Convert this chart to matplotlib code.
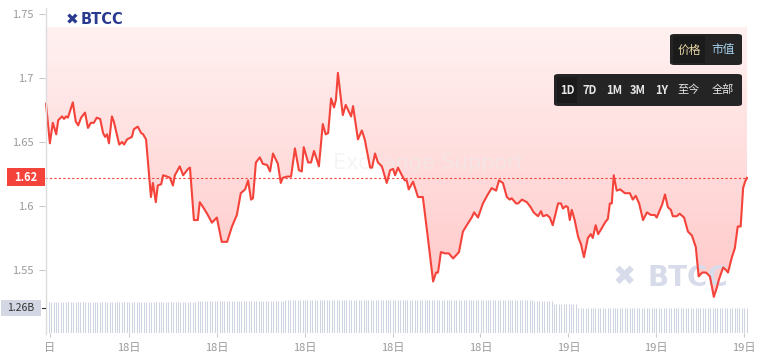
import numpy as np
import matplotlib
matplotlib.use('Agg')
import matplotlib.pyplot as plt
from matplotlib.patches import FancyBboxPatch, Rectangle
from matplotlib.colors import LinearSegmentedColormap

plt.rcParams['font.family'] = ['Noto Sans CJK SC', 'DejaVu Sans']

# minutes since start of the 1D window, price
minutes = [2, 10, 16, 23, 27, 35, 39, 43, 47, 57, 63, 68, 74, 82, 88, 94, 100, 106, 113,
           119, 123, 127, 131, 137, 141, 152, 158, 162, 168, 178, 182, 190, 197, 201, 207,
           217, 221, 227, 231, 238, 242, 250, 256, 262, 266, 276, 283, 293, 297, 305, 313,
           317, 324, 332, 342, 352, 362, 373, 383, 393, 401, 410, 416, 422, 426, 432, 440,
           446, 455, 461, 467, 477, 483, 487, 496, 504, 512, 520, 526, 530, 539, 545, 551,
           557, 561, 569, 575, 580, 586, 592, 596, 600, 610, 616, 627, 631, 639, 641, 649,
           655, 666, 670, 676, 682, 690, 700, 707, 713, 717, 723, 731, 737, 741, 745, 754,
           764, 774, 784, 795, 801, 805, 811, 819, 827, 836, 848, 856, 864, 874, 879, 887,
           897, 907, 915, 924, 930, 938, 946, 952, 956, 965, 969, 977, 987, 995, 1001, 1010,
           1016, 1020, 1028, 1034, 1040, 1051, 1057, 1061, 1067, 1071, 1075, 1079, 1085,
           1092, 1098, 1104, 1112, 1118, 1122, 1128, 1133, 1141, 1147, 1153, 1157, 1161,
           1165, 1171, 1178, 1188, 1198, 1204, 1210, 1217, 1225, 1233, 1241, 1249, 1253,
           1264, 1270, 1276, 1282, 1286, 1294, 1300, 1309, 1317, 1325, 1333, 1339, 1346,
           1354, 1362, 1370, 1376, 1380, 1389, 1395, 1399, 1407, 1413, 1419, 1425, 1430,
           1434, 1438]
prices = [1.680, 1.649, 1.665, 1.656, 1.667, 1.670, 1.668, 1.670, 1.669, 1.681, 1.666, 1.663,
          1.669, 1.673, 1.661, 1.665, 1.665, 1.669, 1.668, 1.657, 1.654, 1.656, 1.649, 1.670,
          1.666, 1.648, 1.650, 1.648, 1.652, 1.654, 1.660, 1.662, 1.657, 1.656, 1.652, 1.607,
          1.618, 1.603, 1.616, 1.617, 1.624, 1.623, 1.622, 1.616, 1.624, 1.631, 1.624, 1.629,
          1.630, 1.589, 1.589, 1.603, 1.599, 1.594, 1.587, 1.591, 1.572, 1.572, 1.584, 1.593,
          1.610, 1.613, 1.620, 1.605, 1.606, 1.634, 1.638, 1.633, 1.632, 1.627, 1.641, 1.633,
          1.618, 1.622, 1.623, 1.623, 1.645, 1.628, 1.627, 1.646, 1.634, 1.634, 1.643, 1.636,
          1.631, 1.664, 1.656, 1.657, 1.684, 1.677, 1.683, 1.704, 1.671, 1.679, 1.670, 1.678,
          1.657, 1.652, 1.659, 1.652, 1.630, 1.630, 1.641, 1.634, 1.631, 1.618, 1.628, 1.629,
          1.624, 1.630, 1.624, 1.620, 1.620, 1.613, 1.619, 1.607, 1.607, 1.576, 1.541, 1.548,
          1.548, 1.564, 1.563, 1.563, 1.559, 1.564, 1.580, 1.585, 1.591, 1.595, 1.591, 1.602,
          1.609, 1.614, 1.612, 1.620, 1.618, 1.607, 1.605, 1.606, 1.602, 1.602, 1.605, 1.603,
          1.599, 1.595, 1.592, 1.596, 1.592, 1.593, 1.591, 1.585, 1.602, 1.602, 1.598, 1.600,
          1.599, 1.589, 1.597, 1.589, 1.576, 1.570, 1.560, 1.575, 1.578, 1.575, 1.585, 1.578,
          1.583, 1.587, 1.590, 1.602, 1.602, 1.624, 1.612, 1.613, 1.610, 1.610, 1.605, 1.608,
          1.602, 1.589, 1.595, 1.593, 1.593, 1.591, 1.601, 1.609, 1.599, 1.597, 1.592, 1.592,
          1.594, 1.591, 1.580, 1.577, 1.568, 1.545, 1.548, 1.548, 1.545, 1.529, 1.536, 1.542,
          1.552, 1.550, 1.548, 1.560, 1.567, 1.584, 1.584, 1.614, 1.619, 1.622]
last_price = 1.622

# volume (billions), run-length by 5-minute bars
vol_levels = [1.57, 1.62, 1.68, 1.60, 1.48, 1.28]
vol_counts = [62, 36, 102, 8, 10, 70]
last_volume = '1.26B'

price_ticks = [1.55, 1.6, 1.65, 1.7, 1.75]
price_tick_labels = ['1.55', '1.6', '1.65', '1.7', '1.75']
time_ticks = [10, 172, 352, 532, 712, 892, 1072, 1252, 1432]
time_labels = ['日', '18日', '18日', '18日', '18日', '18日', '19日', '19日', '19日']
range_buttons = ['1D', '7D', '1M', '3M', '1Y', '至今', '全部']

W, H = 758, 364
fig = plt.figure(figsize=(W / 100, H / 100), dpi=100)
fig.patch.set_facecolor('white')


def fx(px):
    return px / W


def fy(py):
    return 1 - py / H


red = '#f4433a'
grey = '#9a9a9a'

# volume axes
axv = fig.add_axes([fx(45), fy(333), fx(748) - fx(45), (333 - 296) / H])
vols = np.repeat(vol_levels, vol_counts)
bar_t = np.arange(len(vols)) * 5 + 2.5
axv.vlines(bar_t, 0, vols, color='#cfd4e3', lw=0.75, snap=True)
axv.set_xlim(0, 1440)
axv.set_ylim(0, 37 * 1.26 / 25)
axv.set_yticks([])
for s in axv.spines.values():
    s.set_visible(False)
axv.set_xticks(time_ticks)
axv.set_xticklabels(time_labels)
axv.tick_params(axis='x', length=3, color='#cccccc', labelcolor=grey, labelsize=8, pad=4)
axv.patch.set_alpha(0)

# price axes
ax = fig.add_axes([fx(45), fy(300), fx(748) - fx(45), 295 / H])
ax.patch.set_alpha(0)
y_top = 1.75 + 9 / 1280
y_bot = 1.75 - 286 / 1280
fill_top = 1.75 - 13 / 1280
ax.set_xlim(0, 1440)
ax.set_ylim(y_bot, y_top)

poly = ax.fill_between(minutes, prices, fill_top, color='none', linewidth=0)
cmap = LinearSegmentedColormap.from_list('pink', ['#ffc8c8', '#fff1f1'])
grad = np.linspace(0, 1, 256).reshape(-1, 1)
im = ax.imshow(grad, extent=[0, 1440, y_bot, fill_top], origin='lower',
               aspect='auto', cmap=cmap, zorder=1)
im.set_clip_path(poly.get_paths()[0], transform=ax.transData)

ax.plot(minutes, prices, color=red, lw=1.5, zorder=4, solid_joinstyle='round')
ax.axhline(last_price, color=red, lw=0.8, ls=(0, (2, 2)), zorder=3)

ax.set_yticks(price_ticks)
ax.set_yticklabels(price_tick_labels)
ax.tick_params(axis='y', length=4, color='#cccccc', labelcolor=grey, labelsize=8, pad=4)
ax.set_xticks([])
for s in ax.spines.values():
    s.set_visible(False)

# left axis line
fig.add_artist(plt.Line2D([fx(45.5), fx(45.5)], [fy(8), fy(334)], color='#dddddd', lw=1))

# watermarks (under the line, over the fill)
ft = ax.transAxes.inverted()


def fig_to_ax(px, py):
    return ft.transform(fig.transFigure.transform((fx(px), fy(py))))


wx, wy = fig_to_ax(428, 163)
ax.text(wx, wy, 'Exchange Support', transform=ax.transAxes, fontsize=15, color='#ececec',
        alpha=0.5, ha='center', va='center', family='DejaVu Sans', zorder=2)
wx, wy = fig_to_ax(624, 277)
ax.text(wx, wy, '✖', transform=ax.transAxes, fontsize=20, color='#d8dcea', ha='center',
        va='center', family='DejaVu Sans', zorder=2)
wx, wy = fig_to_ax(647, 278)
ax.text(wx, wy, 'BTCC', transform=ax.transAxes, fontsize=20, color='#d8dcea', ha='left',
        va='center', family='DejaVu Sans', weight='bold', zorder=2)

fig.text(fx(72), fy(20), '✖', fontsize=11, color='#2a3a8f', ha='center', va='center',
         family='DejaVu Sans')
fig.text(fx(81), fy(20), 'BTCC', fontsize=10.5, color='#2a3a8f', ha='left', va='center',
         family='DejaVu Sans', weight='bold')

# last price label
fig.add_artist(Rectangle((fx(7), fy(186)), fx(38), 18 / H, color=red, lw=0))
fig.text(fx(26), fy(177.5), f'{last_price:.2f}', color='white', fontsize=8, weight='bold',
         ha='center', va='center')

# last volume label
fig.add_artist(Rectangle((fx(1), fy(316)), fx(40), 16 / H, color='#d3d7e3', lw=0))
fig.text(fx(21), fy(308), last_volume, color='#333333', fontsize=7.5, ha='center', va='center')
fig.add_artist(plt.Line2D([fx(42), fx(45)], [fy(308), fy(308)], color='#333333', lw=0.8))


# buttons
def box(x0, y0, x1, y1, color):
    fig.add_artist(FancyBboxPatch((fx(x0), fy(y1)), fx(x1 - x0), (y1 - y0) / H,
                                  boxstyle='round,pad=0,rounding_size=0.006',
                                  color=color, lw=0))


box(670, 34, 742, 65, '#242424')
fig.add_artist(Rectangle((fx(673), fy(63)), fx(32), 27 / H, color='#1b1b1b', lw=0))
fig.text(fx(689), fy(50), '价格', color='#e8d6a6', fontsize=8.5, ha='center', va='center')
fig.text(fx(723), fy(50), '市值', color='#a9d4f0', fontsize=8.5, ha='center', va='center')

box(554, 74, 742, 106, '#242424')
fig.add_artist(Rectangle((fx(557), fy(103)), fx(20), 26 / H, color='#1b1b1b', lw=0))
btn_x = [567, 590, 614, 638, 662, 689, 723]
for bx, lab in zip(btn_x, range_buttons):
    fig.text(fx(bx), fy(90), lab, color='#e6e6e6', fontsize=8, ha='center', va='center',
             weight='bold' if lab[0].isdigit() else 'normal')

fig.savefig('out.png', dpi=100)
